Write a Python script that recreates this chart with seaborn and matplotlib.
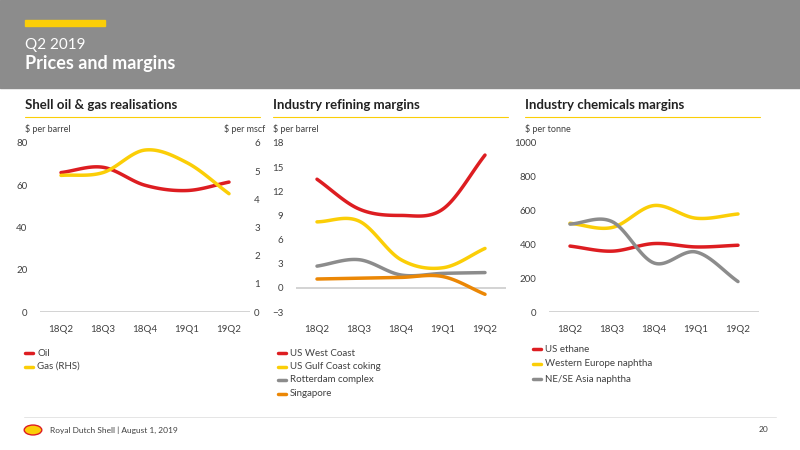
import numpy as np
import pandas as pd
import seaborn as sns
from matplotlib import pyplot as plt
from matplotlib.patches import Rectangle, Circle

sns.set_theme(style='white')
plt.rcParams['font.family'] = ['Lato', 'DejaVu Sans']

quarters = ['18Q2', '18Q3', '18Q4', '19Q1', '19Q2']
oil = [66, 68.5, 60, 57.5, 61.5]
gas = [4.85, 4.95, 5.75, 5.3, 4.2]
us_west = [13.5, 9.8, 9.0, 9.8, 16.5]
us_gulf = [8.2, 8.3, 3.5, 2.5, 4.9]
rotterdam = [2.7, 3.5, 1.6, 1.8, 1.9]
singapore = [1.1, 1.2, 1.3, 1.4, -0.8]
us_ethane = [390, 360, 405, 385, 395]
we_naphtha = [525, 500, 630, 555, 580]
asia_naphtha = [520, 535, 290, 355, 180]

RED, YEL, GRY, ORG = '#dd1d21', '#fbce07', '#8c8c8c', '#eb8705'
TXT = '#404040'


def smooth(vals, n=30):
    # catmull-rom curve through the points, only for drawing
    p = np.array(vals, float)
    p = np.concatenate([[2 * p[0] - p[1]], p, [2 * p[-1] - p[-2]]])
    xs, ys = [], []
    for i in range(1, len(p) - 2):
        t = np.linspace(0, 1, n, endpoint=False)
        p0, p1, p2, p3 = p[i - 1], p[i], p[i + 1], p[i + 2]
        y = 0.5 * (2 * p1 + (p2 - p0) * t + (2 * p0 - 5 * p1 + 4 * p2 - p3) * t**2
                   + (3 * p1 - p0 - 3 * p2 + p3) * t**3)
        xs.append(i - 1 + t)
        ys.append(y)
    xs.append([len(vals) - 1])
    ys.append([vals[-1]])
    return pd.DataFrame({'x': np.concatenate(xs), 'y': np.concatenate(ys)})


def style(ax, ylim, yticks):
    ax.set_xlim(-0.5, 4.5)
    ax.set_ylim(ylim)
    ax.set_yticks(yticks)
    ax.set_xticks(range(5))
    ax.set_xticklabels(quarters)
    ax.tick_params(labelsize=7, colors=TXT, length=0, pad=9)
    for s in ax.spines.values():
        s.set_visible(False)
    ax.axhline(0, color='#cccccc', lw=1.2, zorder=0)
    ax.set_xlabel('')
    ax.set_ylabel('')


fig = plt.figure(figsize=(8, 4.5), dpi=100)
fig.patches.append(Rectangle((0, 0.805), 1, 0.195, transform=fig.transFigure, color='#8c8c8c', zorder=-1))
fig.patches.append(Rectangle((25 / 800, 1 - 26 / 450), 80 / 800, 6 / 450, transform=fig.transFigure, color=YEL))
fig.text(25 / 800, 1 - 45 / 450, 'Q2 2019', color='white', fontsize=11, va='center')
fig.text(25 / 800, 1 - 63 / 450, 'Prices and margins', color='white', fontsize=13, fontweight='bold', va='center')

titles = ['Shell oil & gas realisations', 'Industry refining margins', 'Industry chemicals margins']
lefts = [25, 273, 525]
for t, l in zip(titles, lefts):
    fig.text(l / 800, 1 - 105 / 450, t, fontsize=9.5, fontweight='bold', color='#222222', va='center')
    fig.add_artist(plt.Line2D([l / 800, (l + 235) / 800], [1 - 117 / 450] * 2, color=YEL, lw=0.8))

axpos = lambda x0: [x0 / 800, 138 / 450, 210 / 800, 169 / 450]
ax1 = fig.add_axes(axpos(40))
ax2 = fig.add_axes(axpos(296))
ax3 = fig.add_axes(axpos(549))

sns.lineplot(data=smooth(oil), x='x', y='y', ax=ax1, color=RED, lw=2.5, legend=False)
style(ax1, (0, 80), [0, 20, 40, 60, 80])
ax1r = ax1.twinx()
sns.lineplot(data=smooth(gas), x='x', y='y', ax=ax1r, color=YEL, lw=2.5, legend=False)
ax1r.set_ylim(0, 6)
ax1r.set_yticks(range(7))
ax1r.tick_params(labelsize=7, colors=TXT, length=0, pad=3)
ax1r.set_ylabel('')
for s in ax1r.spines.values():
    s.set_visible(False)

ref = [('US West Coast', us_west, RED), ('US Gulf Coast coking', us_gulf, YEL),
       ('Rotterdam complex', rotterdam, GRY), ('Singapore', singapore, ORG)]
for name, v, c in ref:
    sns.lineplot(data=smooth(v), x='x', y='y', ax=ax2, color=c, lw=2.5, legend=False)
style(ax2, (-3, 18), [-3, 0, 3, 6, 9, 12, 15, 18])

chem = [('US ethane', us_ethane, RED), ('Western Europe naphtha', we_naphtha, YEL),
        ('NE/SE Asia naphtha', asia_naphtha, GRY)]
for name, v, c in chem:
    sns.lineplot(data=smooth(v), x='x', y='y', ax=ax3, color=c, lw=2.5, legend=False)
style(ax3, (0, 1000), [0, 200, 400, 600, 800, 1000])

fig.text(25 / 800, 1 - 129 / 450, '$ per barrel', fontsize=6.5, color=TXT, va='center')
fig.text(224 / 800, 1 - 129 / 450, '$ per mscf', fontsize=6.5, color=TXT, va='center')
fig.text(273 / 800, 1 - 129 / 450, '$ per barrel', fontsize=6.5, color=TXT, va='center')
fig.text(525 / 800, 1 - 129 / 450, '$ per tonne', fontsize=6.5, color=TXT, va='center')


def legend(x, y0, items, step=13.5):
    for i, (name, c) in enumerate(items):
        y = 1 - (y0 + i * step) / 450
        fig.add_artist(plt.Line2D([x / 800, (x + 8) / 800], [y, y], color=c, lw=2.5))
        fig.text((x + 12) / 800, y, name, fontsize=7, color=TXT, va='center')


legend(25, 353, [('Oil', RED), ('Gas (RHS)', YEL)])
legend(278, 353, [(n, c) for n, _, c in ref])
legend(533, 349, [(n, c) for n, _, c in chem], step=15)

fig.add_artist(plt.Line2D([0.03, 0.97], [1 - 417 / 450] * 2, color='#e0e0e0', lw=0.6))
fig.patches.append(Circle((33 / 800, 1 - 430 / 450), 0.011, transform=fig.transFigure, color=YEL, ec=RED, lw=1))
fig.text(50 / 800, 1 - 430 / 450, 'Royal Dutch Shell | August 1, 2019', fontsize=6, color=TXT, va='center')
fig.text(768 / 800, 1 - 430 / 450, '20', fontsize=6, color=TXT, va='center', ha='right')

fig.savefig('out.png', dpi=100)
